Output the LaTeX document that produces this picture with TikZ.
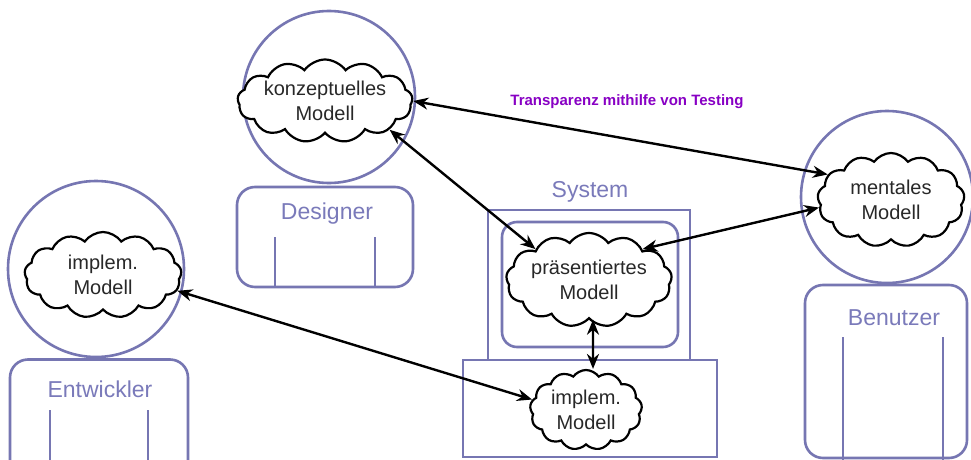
\documentclass[tikz,border=0pt]{standalone}
\usepackage{fontspec}
\setmainfont{Liberation Sans}
\usetikzlibrary{shapes.symbols,arrows.meta,calc}
\definecolor{slate}{RGB}{118,118,178}
\definecolor{slatetext}{RGB}{122,122,186}
\definecolor{purp}{RGB}{136,0,196}
\definecolor{cloudtext}{RGB}{40,40,40}
\begin{document}
\begin{tikzpicture}[x=1pt,y=-1pt,
  head/.style={draw=slate,line width=2.6pt,circle,inner sep=0pt},
  body/.style={draw=slate,line width=2.6pt,rounded corners=18pt,inner sep=0pt},
  sysbox/.style={draw=slate,line width=2.6pt,inner sep=0pt},
  leg/.style={draw=slate,line width=2.6pt},
  lbl/.style={text=slatetext,font=\fontsize{23}{26}\selectfont},
  thought/.style={draw=black,line width=2.2pt,fill=white,cloud,cloud puffs=13,cloud puff arc=110,
    cloud ignores aspect,inner sep=0pt,align=center,text=cloudtext,
    font=\fontsize{20}{25}\selectfont},
  link/.style={draw=black,line width=2.4pt,{Stealth[length=15pt,width=12pt]}-{Stealth[length=15pt,width=12pt]}}
]
\clip (0,0) rectangle (971,460);
\fill[white] (0,0) rectangle (971,460);

% Designer
\node[body,minimum width=176pt,minimum height=100pt] (dBody) at (325,237) {};
\node[head,fill=white,minimum size=172pt] (dHead) at (329,97) {};
\node[lbl] (dLbl) at (327,214) {Designer};
\draw[leg] (275,237) -- (275,287);
\draw[leg] (375,237) -- (375,287);

% Entwickler
\node[body,minimum width=178pt,minimum height=125pt] (eBody) at (99,422) {};
\node[head,fill=white,minimum size=176pt] (eHead) at (96,269) {};
\node[lbl] (eLbl) at (100,389) {Entwickler};
\draw[leg] (50,410) -- (50,470);
\draw[leg] (148,410) -- (148,470);

% Benutzer
\node[body,minimum width=162pt,minimum height=173pt] (bBody) at (886,371.5) {};
\node[head,fill=white,minimum size=172pt] (bHead) at (887,197) {};
\node[lbl] (bLbl) at (894,318) {Benutzer};
\draw[leg] (843,337) -- (843,470);
\draw[leg] (943,337) -- (943,470);

% System
\node[lbl] (sLbl) at (590,192) {System};
\node[sysbox,minimum width=202pt,minimum height=150pt] (screen) at (589,285) {};
\node[sysbox,rounded corners=15pt,minimum width=176pt,minimum height=125pt] (inner) at (590,284.5) {};
\node[sysbox,fill=white,minimum width=254pt,minimum height=97pt] (base) at (590,408.5) {};

% clouds
\node[thought,minimum width=145pt,minimum height=83pt] (konz) at (325,101) {konzeptuelles\\Modell};
\node[thought,minimum width=157pt,minimum height=86pt] (impl1) at (103,275) {implem.\\Modell};
\node[thought,minimum width=147pt,minimum height=94pt] (ment) at (891,200) {mentales\\Modell};
\node[thought,minimum width=148pt,minimum height=94pt] (praes) at (589,280) {präsentiertes\\Modell};
\node[thought,minimum width=112pt,minimum height=80pt] (impl2) at (586,410) {implem.\\Modell};

% label
\node[text=purp,font=\fontsize{15}{18}\selectfont\bfseries] (trans) at (627,102) {Transparenz mithilfe von Testing};

% connectors
\draw[link] (konz.east) -- (ment.158);
\draw[link] (konz.-24) -- (praes.150);
\draw[link] (ment.186) -- (praes.30);
\draw[link] (impl1.-12) -- (impl2.169);
\draw[link] ([xshift=4pt]praes.south) -- ([xshift=7pt]impl2.north);
\end{tikzpicture}
\end{document}
